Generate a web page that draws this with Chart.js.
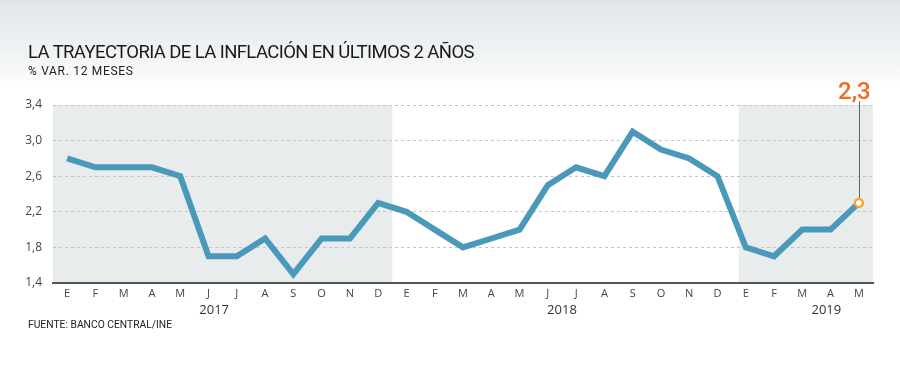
<!DOCTYPE html>
<html>
<head>
<meta charset="utf-8">
<script src="https://cdn.jsdelivr.net/npm/chart.js@4.4.1/dist/chart.umd.min.js"></script>
<style>
  html, body { margin: 0; padding: 0; }
  body { width: 900px; height: 369px; position: relative; overflow: hidden;
         background: linear-gradient(to bottom, #dfe6ea 0px, #f3f5f6 60px, #ffffff 90px, #ffffff 369px); }
  #wrap { position: absolute; left: 0; top: 0; width: 900px; height: 369px; }
  .title { position: absolute; left: 28px; top: 41px; font-family: Roboto, 'DejaVu Sans', sans-serif;
           font-size: 18.5px; color: #1a1a1a; white-space: nowrap; letter-spacing: -0.6px; }
  .sub { position: absolute; left: 28px; top: 64px; font-family: Roboto, 'DejaVu Sans', sans-serif; font-size: 12px; color: #222; letter-spacing: 0.7px; white-space: nowrap; }
  .src { position: absolute; left: 28px; top: 318px; font-family: Roboto, sans-serif; font-size: 10.3px; color: #222; white-space: nowrap; }
  .callout { position: absolute; left: 838px; top: 77px; font-family: Roboto, sans-serif; font-weight: 500; font-size: 24px; color: #f26a21; white-space: nowrap; }
</style>
</head>
<body>
<div id="wrap"><canvas id="c" width="900" height="369"></canvas></div>
<div class="title">LA TRAYECTORIA DE LA INFLACIÓN EN ÚLTIMOS 2 AÑOS</div>
<div class="sub">% VAR. 12 MESES</div>
<div class="src">FUENTE: BANCO CENTRAL/INE</div>
<div class="callout">2,3</div>
<script>
const months = ["E","F","M","A","M","J","J","A","S","O","N","D",
                "E","F","M","A","M","J","J","A","S","O","N","D",
                "E","F","M","A","M"];
const inflation = [2.8,2.7,2.7,2.7,2.6,1.7,1.7,1.9,1.5,1.9,1.9,2.3,
                   2.2,2.0,1.8,1.9,2.0,2.5,2.7,2.6,3.1,2.9,2.8,2.6,
                   1.8,1.7,2.0,2.0,2.3];
const years = ["2017","2018","2019"];
const yearLabelPos = [5.2, 17.5, 26.85];
const shadedRanges = [[-0.5, 11.5], [23.75, 28.5]];
const yTicks = [1.4, 1.8, 2.2, 2.6, 3.0, 3.4];

const lastIdx = inflation.length - 1;

const bgPlugin = {
  id: 'bands',
  beforeDraw(chart) {
    const {ctx, chartArea, scales} = chart;
    ctx.save();
    ctx.fillStyle = '#e8ecec';
    shadedRanges.forEach(([a, b]) => {
      const x1 = Math.max(chartArea.left, scales.x.getPixelForValue(a));
      const x2 = Math.min(chartArea.right, scales.x.getPixelForValue(b));
      ctx.fillRect(x1, chartArea.top, x2 - x1, chartArea.bottom - chartArea.top);
    });
    ctx.restore();
  },
  afterDraw(chart) {
    const {ctx, scales} = chart;
    ctx.save();
    ctx.fillStyle = '#333';
    ctx.font = '13px "Open Sans", Roboto, sans-serif';
    ctx.textAlign = 'center';
    ctx.textBaseline = 'middle';
    years.forEach((y, i) => {
      ctx.fillText(y, scales.x.getPixelForValue(yearLabelPos[i]), 310);
    });
    const px = scales.x.getPixelForValue(lastIdx);
    const py = scales.y.getPixelForValue(inflation[lastIdx]);
    ctx.strokeStyle = '#666';
    ctx.lineWidth = 1;
    ctx.beginPath();
    ctx.moveTo(Math.round(px) + 0.5, 101);
    ctx.lineTo(Math.round(px) + 0.5, py - 5);
    ctx.stroke();
    ctx.restore();
  }
};

new Chart(document.getElementById('c'), {
  type: 'line',
  data: {
    labels: months,
    datasets: [{
      data: inflation,
      borderColor: '#4a98ba',
      borderWidth: 6,
      tension: 0,
      borderJoinStyle: 'miter',
      pointRadius: inflation.map((v, i) => i === lastIdx ? 4 : 0),
      pointBackgroundColor: '#ffffff',
      pointBorderColor: '#f7a733',
      pointBorderWidth: 2.5,
      clip: false
    }]
  },
  options: {
    responsive: false,
    animation: false,
    layout: { padding: { left: 0, right: 27, top: 105, bottom: 0 } },
    plugins: { legend: { display: false }, tooltip: { enabled: false } },
    scales: {
      x: {
        offset: true,
        grid: { display: false, drawTicks: false },
        border: { display: true, color: '#555', width: 2 },
        ticks: { color: '#444', font: { size: 11, family: '"Open Sans", Roboto, sans-serif' }, padding: 4, autoSkip: false, maxRotation: 0 },
        afterFit(scale) { scale.height = 86; }
      },
      y: {
        min: 1.4, max: 3.4,
        afterBuildTicks(scale) { scale.ticks = yTicks.map(v => ({ value: v })); },
        grid: { color: '#c4c4c4', drawTicks: false, lineWidth: 1 },
        border: { display: false, dash: [3, 3] },
        ticks: {
          color: '#444', padding: 11,
          font: { size: 12, family: '"Open Sans", Roboto, sans-serif' },
          callback: v => v.toFixed(1).replace('.', ',')
        },
        afterFit(scale) { scale.width = 53; }
      }
    }
  },
  plugins: [bgPlugin]
});
</script>
</body>
</html>
